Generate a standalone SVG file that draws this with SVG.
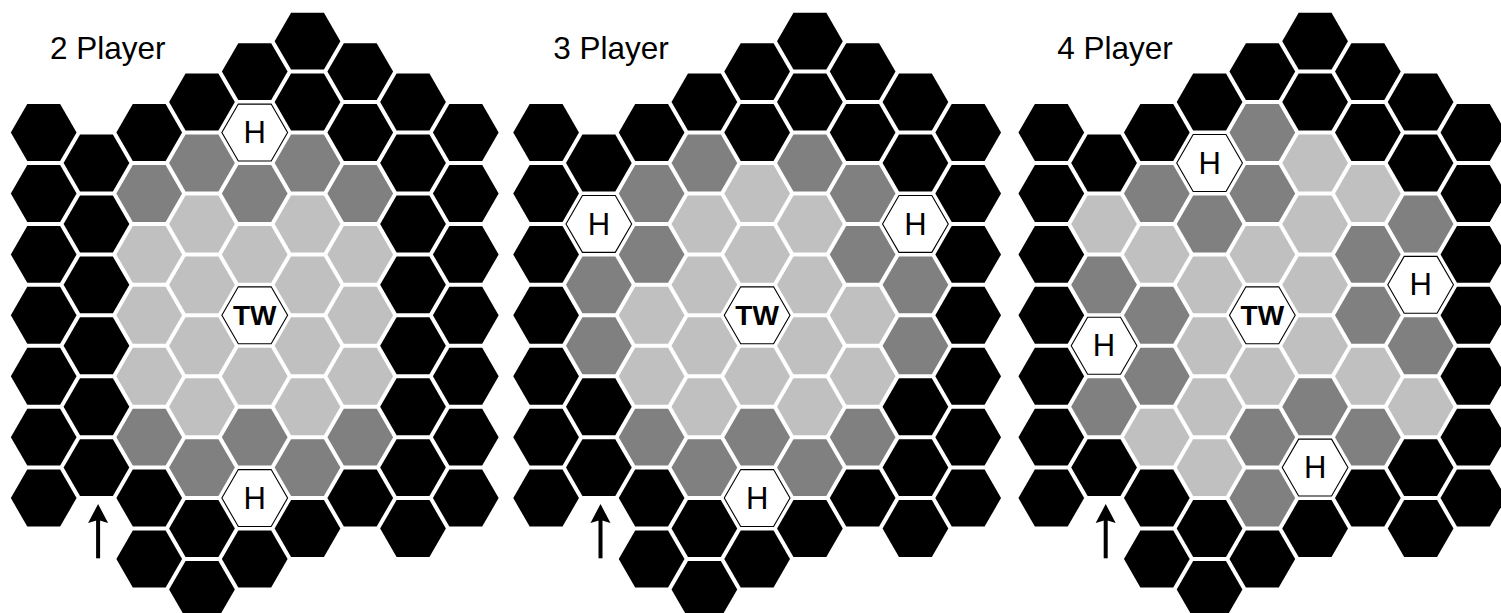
<svg xmlns="http://www.w3.org/2000/svg" xmlns:xlink="http://www.w3.org/1999/xlink" width="1501" height="613" viewBox="0 0 1501 613">
<style>
.k{fill:#000}.g{fill:#808080}.l{fill:#c0c0c0}.w{fill:#fff;stroke:#000;stroke-width:1.1}
text{font-family:"Liberation Sans",Arial,Helvetica,sans-serif;fill:#000}
.ti{font-size:31.5px}.hl{font-size:31px;text-anchor:middle}.tw{font-size:28px;font-weight:bold;text-anchor:middle}
</style>
<defs>
<polygon id="h" points="32.86,0 16.43,28.46 -16.43,28.46 -32.86,0 -16.43,-28.46 16.43,-28.46"/>
<g id="arr"><rect x="-2" y="516" width="4" height="42.3" fill="#000"/><polygon points="0,504 10,523 0,520 -10,523" fill="#000"/></g>
</defs>
<rect width="1501" height="613" fill="#fff"/>
<text class="ti" x="50" y="59.3">2 Player</text>
<text class="ti" x="553.3" y="59.3">3 Player</text>
<text class="ti" x="1057.3" y="59.3">4 Player</text>

<g id="board-2p" transform="translate(43.7,0)">
<g class="k">
<use href="#h" x="0" y="132.54"/><use href="#h" x="0" y="193.46"/><use href="#h" x="0" y="254.38"/><use href="#h" x="0" y="315.3"/><use href="#h" x="0" y="376.22"/><use href="#h" x="0" y="437.14"/><use href="#h" x="0" y="498.06"/>
<use href="#h" x="52.76" y="163"/><use href="#h" x="52.76" y="223.92"/><use href="#h" x="52.76" y="284.84"/><use href="#h" x="52.76" y="345.76"/><use href="#h" x="52.76" y="406.68"/><use href="#h" x="52.76" y="467.6"/>
<use href="#h" x="105.52" y="132.54"/><use href="#h" x="105.52" y="498.06"/><use href="#h" x="105.52" y="558.98"/>
<use href="#h" x="158.28" y="102.08"/><use href="#h" x="158.28" y="528.52"/><use href="#h" x="158.28" y="589.44"/>
<use href="#h" x="211.04" y="71.62"/><use href="#h" x="211.04" y="558.98"/>
<use href="#h" x="263.8" y="41.16"/><use href="#h" x="263.8" y="102.08"/><use href="#h" x="263.8" y="528.52"/>
<use href="#h" x="316.56" y="71.62"/><use href="#h" x="316.56" y="132.54"/><use href="#h" x="316.56" y="498.06"/>
<use href="#h" x="369.32" y="102.08"/><use href="#h" x="369.32" y="163"/><use href="#h" x="369.32" y="223.92"/><use href="#h" x="369.32" y="284.84"/><use href="#h" x="369.32" y="345.76"/><use href="#h" x="369.32" y="406.68"/><use href="#h" x="369.32" y="467.6"/><use href="#h" x="369.32" y="528.52"/>
<use href="#h" x="422.08" y="132.54"/><use href="#h" x="422.08" y="193.46"/><use href="#h" x="422.08" y="254.38"/><use href="#h" x="422.08" y="315.3"/><use href="#h" x="422.08" y="376.22"/><use href="#h" x="422.08" y="437.14"/><use href="#h" x="422.08" y="498.06"/>
</g>
<g class="g">
<use href="#h" x="105.52" y="193.46"/><use href="#h" x="105.52" y="437.14"/><use href="#h" x="158.28" y="163"/><use href="#h" x="158.28" y="467.6"/><use href="#h" x="211.04" y="193.46"/><use href="#h" x="211.04" y="437.14"/><use href="#h" x="263.8" y="163"/><use href="#h" x="263.8" y="467.6"/><use href="#h" x="316.56" y="193.46"/><use href="#h" x="316.56" y="437.14"/>
</g>
<g class="l">
<use href="#h" x="105.52" y="254.38"/><use href="#h" x="105.52" y="315.3"/><use href="#h" x="105.52" y="376.22"/>
<use href="#h" x="158.28" y="223.92"/><use href="#h" x="158.28" y="284.84"/><use href="#h" x="158.28" y="345.76"/><use href="#h" x="158.28" y="406.68"/>
<use href="#h" x="211.04" y="254.38"/><use href="#h" x="211.04" y="376.22"/>
<use href="#h" x="263.8" y="223.92"/><use href="#h" x="263.8" y="284.84"/><use href="#h" x="263.8" y="345.76"/><use href="#h" x="263.8" y="406.68"/>
<use href="#h" x="316.56" y="254.38"/><use href="#h" x="316.56" y="315.3"/><use href="#h" x="316.56" y="376.22"/>
</g>
<g class="w">
<use href="#h" x="211.04" y="132.54"/><use href="#h" x="211.04" y="498.06"/><use href="#h" x="211.04" y="315.3"/>
</g>
<text class="hl" x="211.04" y="143.1">H</text>
<text class="hl" x="211.04" y="508.6">H</text>
<text class="tw" x="211.04" y="324.6">TW</text>
<use href="#arr" x="54.4"/>
</g>

<g id="board-3p" transform="translate(546.1,0)">
<g class="k">
<use href="#h" x="0" y="132.54"/><use href="#h" x="0" y="193.46"/><use href="#h" x="0" y="254.38"/><use href="#h" x="0" y="315.3"/><use href="#h" x="0" y="376.22"/><use href="#h" x="0" y="437.14"/><use href="#h" x="0" y="498.06"/>
<use href="#h" x="52.76" y="163"/><use href="#h" x="52.76" y="406.68"/><use href="#h" x="52.76" y="467.6"/>
<use href="#h" x="105.52" y="132.54"/><use href="#h" x="105.52" y="498.06"/><use href="#h" x="105.52" y="558.98"/>
<use href="#h" x="158.28" y="102.08"/><use href="#h" x="158.28" y="528.52"/><use href="#h" x="158.28" y="589.44"/>
<use href="#h" x="211.04" y="71.62"/><use href="#h" x="211.04" y="132.54"/><use href="#h" x="211.04" y="558.98"/>
<use href="#h" x="263.8" y="41.16"/><use href="#h" x="263.8" y="102.08"/><use href="#h" x="263.8" y="528.52"/>
<use href="#h" x="316.56" y="71.62"/><use href="#h" x="316.56" y="132.54"/><use href="#h" x="316.56" y="498.06"/>
<use href="#h" x="369.32" y="102.08"/><use href="#h" x="369.32" y="163"/><use href="#h" x="369.32" y="406.68"/><use href="#h" x="369.32" y="467.6"/><use href="#h" x="369.32" y="528.52"/>
<use href="#h" x="422.08" y="132.54"/><use href="#h" x="422.08" y="193.46"/><use href="#h" x="422.08" y="254.38"/><use href="#h" x="422.08" y="315.3"/><use href="#h" x="422.08" y="376.22"/><use href="#h" x="422.08" y="437.14"/><use href="#h" x="422.08" y="498.06"/>
</g>
<g class="g">
<use href="#h" x="52.76" y="284.84"/><use href="#h" x="52.76" y="345.76"/>
<use href="#h" x="105.52" y="193.46"/><use href="#h" x="105.52" y="254.38"/><use href="#h" x="105.52" y="437.14"/>
<use href="#h" x="158.28" y="163"/><use href="#h" x="158.28" y="467.6"/>
<use href="#h" x="211.04" y="437.14"/>
<use href="#h" x="263.8" y="163"/><use href="#h" x="263.8" y="467.6"/>
<use href="#h" x="316.56" y="193.46"/><use href="#h" x="316.56" y="254.38"/><use href="#h" x="316.56" y="437.14"/>
<use href="#h" x="369.32" y="284.84"/><use href="#h" x="369.32" y="345.76"/>
</g>
<g class="l">
<use href="#h" x="105.52" y="315.3"/><use href="#h" x="105.52" y="376.22"/>
<use href="#h" x="158.28" y="223.92"/><use href="#h" x="158.28" y="284.84"/><use href="#h" x="158.28" y="345.76"/><use href="#h" x="158.28" y="406.68"/>
<use href="#h" x="211.04" y="193.46"/><use href="#h" x="211.04" y="254.38"/><use href="#h" x="211.04" y="376.22"/>
<use href="#h" x="263.8" y="223.92"/><use href="#h" x="263.8" y="284.84"/><use href="#h" x="263.8" y="345.76"/><use href="#h" x="263.8" y="406.68"/>
<use href="#h" x="316.56" y="315.3"/><use href="#h" x="316.56" y="376.22"/>
</g>
<g class="w">
<use href="#h" x="52.76" y="223.92"/><use href="#h" x="369.32" y="223.92"/><use href="#h" x="211.04" y="498.06"/><use href="#h" x="211.04" y="315.3"/>
</g>
<text class="hl" x="52.76" y="234.5">H</text>
<text class="hl" x="369.32" y="234.5">H</text>
<text class="hl" x="211.04" y="508.6">H</text>
<text class="tw" x="211.04" y="324.6">TW</text>
<use href="#arr" x="54.4"/>
</g>

<g id="board-4p" transform="translate(1051.3,0)">
<g class="k">
<use href="#h" x="0" y="132.54"/><use href="#h" x="0" y="193.46"/><use href="#h" x="0" y="254.38"/><use href="#h" x="0" y="315.3"/><use href="#h" x="0" y="376.22"/><use href="#h" x="0" y="437.14"/><use href="#h" x="0" y="498.06"/>
<use href="#h" x="52.76" y="163"/><use href="#h" x="52.76" y="467.6"/>
<use href="#h" x="105.52" y="132.54"/><use href="#h" x="105.52" y="498.06"/><use href="#h" x="105.52" y="558.98"/>
<use href="#h" x="158.28" y="102.08"/><use href="#h" x="158.28" y="528.52"/><use href="#h" x="158.28" y="589.44"/>
<use href="#h" x="211.04" y="71.62"/><use href="#h" x="211.04" y="558.98"/>
<use href="#h" x="263.8" y="41.16"/><use href="#h" x="263.8" y="102.08"/><use href="#h" x="263.8" y="528.52"/>
<use href="#h" x="316.56" y="71.62"/><use href="#h" x="316.56" y="132.54"/><use href="#h" x="316.56" y="498.06"/>
<use href="#h" x="369.32" y="102.08"/><use href="#h" x="369.32" y="163"/><use href="#h" x="369.32" y="467.6"/><use href="#h" x="369.32" y="528.52"/>
<use href="#h" x="422.08" y="132.54"/><use href="#h" x="422.08" y="193.46"/><use href="#h" x="422.08" y="254.38"/><use href="#h" x="422.08" y="315.3"/><use href="#h" x="422.08" y="376.22"/><use href="#h" x="422.08" y="437.14"/><use href="#h" x="422.08" y="498.06"/>
</g>
<g class="g">
<use href="#h" x="52.76" y="284.84"/><use href="#h" x="52.76" y="406.68"/>
<use href="#h" x="105.52" y="193.46"/><use href="#h" x="105.52" y="315.3"/><use href="#h" x="105.52" y="376.22"/>
<use href="#h" x="158.28" y="223.92"/>
<use href="#h" x="211.04" y="132.54"/><use href="#h" x="211.04" y="193.46"/><use href="#h" x="211.04" y="437.14"/><use href="#h" x="211.04" y="498.06"/>
<use href="#h" x="263.8" y="406.68"/>
<use href="#h" x="316.56" y="254.38"/><use href="#h" x="316.56" y="315.3"/><use href="#h" x="316.56" y="437.14"/>
<use href="#h" x="369.32" y="223.92"/><use href="#h" x="369.32" y="345.76"/>
</g>
<g class="l">
<use href="#h" x="52.76" y="223.92"/>
<use href="#h" x="105.52" y="254.38"/><use href="#h" x="105.52" y="437.14"/>
<use href="#h" x="158.28" y="284.84"/><use href="#h" x="158.28" y="345.76"/><use href="#h" x="158.28" y="406.68"/><use href="#h" x="158.28" y="467.6"/>
<use href="#h" x="211.04" y="254.38"/><use href="#h" x="211.04" y="376.22"/>
<use href="#h" x="263.8" y="163"/><use href="#h" x="263.8" y="223.92"/><use href="#h" x="263.8" y="284.84"/><use href="#h" x="263.8" y="345.76"/>
<use href="#h" x="316.56" y="193.46"/><use href="#h" x="316.56" y="376.22"/>
<use href="#h" x="369.32" y="406.68"/>
</g>
<g class="w">
<use href="#h" x="52.76" y="345.76"/><use href="#h" x="158.28" y="163"/><use href="#h" x="263.8" y="467.6"/><use href="#h" x="369.32" y="284.84"/><use href="#h" x="211.04" y="315.3"/>
</g>
<text class="hl" x="52.76" y="356.3">H</text>
<text class="hl" x="158.28" y="173.6">H</text>
<text class="hl" x="263.8" y="478.2">H</text>
<text class="hl" x="369.32" y="295.4">H</text>
<text class="tw" x="211.04" y="324.6">TW</text>
<use href="#arr" x="54.4"/>
</g>
</svg>
